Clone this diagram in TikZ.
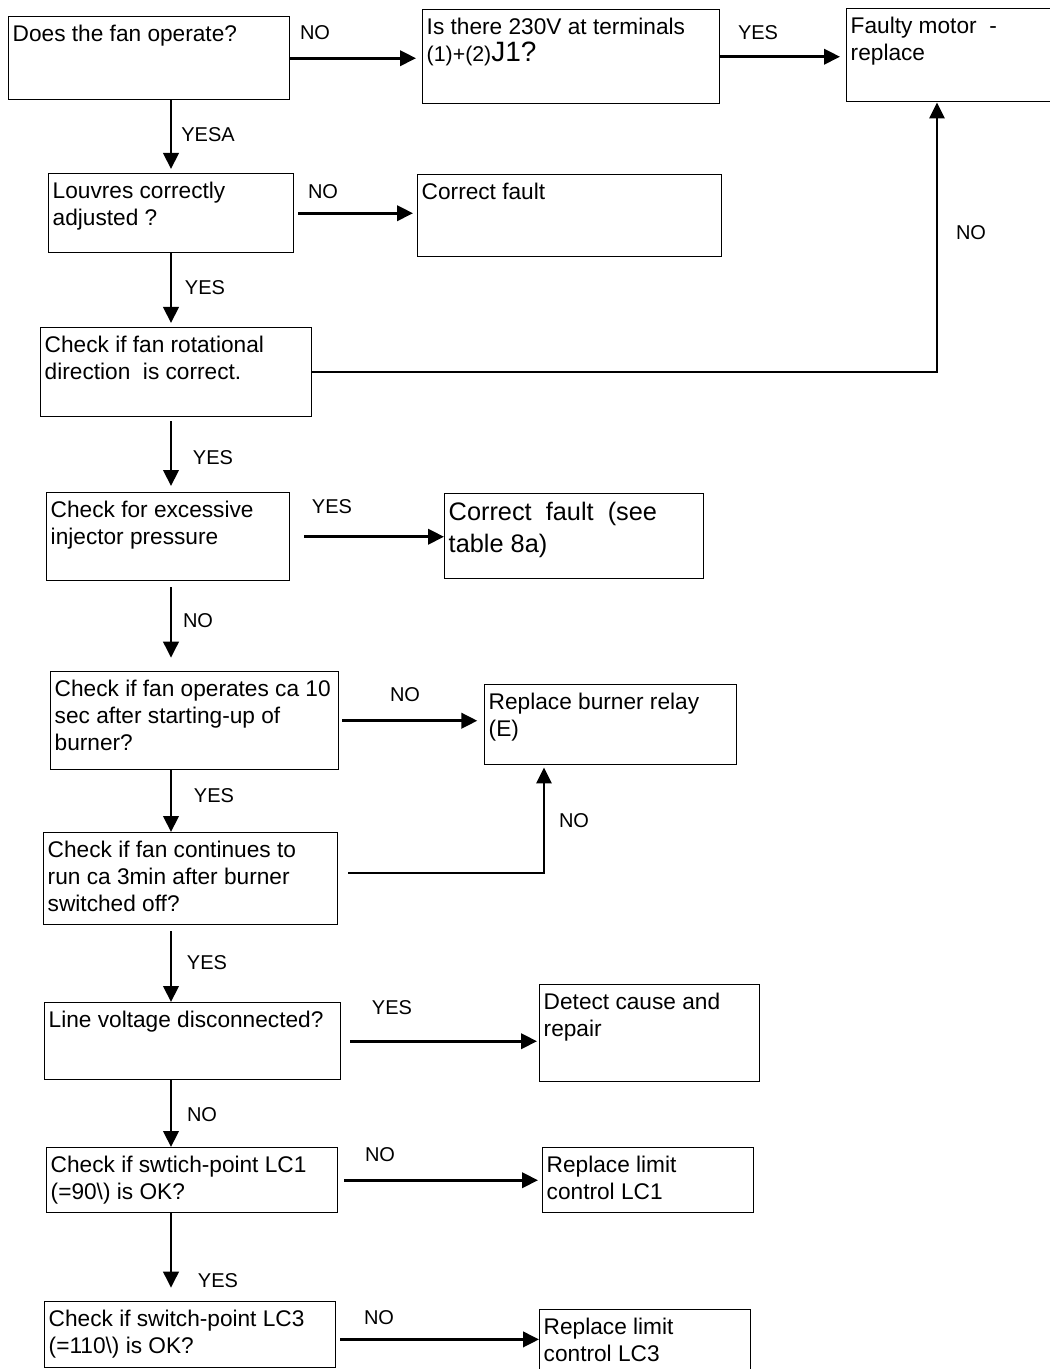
\documentclass[tikz,border=0pt]{standalone}
\usepackage{fontspec}
\setmainfont{Liberation Sans}
\usetikzlibrary{arrows.meta, positioning, calc}
\newdimen\pxu
\pxu=0.75pt
\newcommand{\qtext}[3]{\parbox[c][\dimexpr#2\pxu-16\pxu\relax][t]{\dimexpr#1\pxu-8\pxu\relax}{\raggedright#3}}
\tikzset{
  qbox/.style={
    draw=black,
    line width=1.1pt,
    anchor=north west,
    inner xsep=3pt,
    inner ysep=6pt,
    font=\fontsize{17}{20.25}\selectfont
  },
  lbl/.style={
    font=\fontsize{15}{18}\selectfont,
    inner sep=0pt
  },
  arrowd/.style={
    -{Triangle[length=12pt, width=11.5pt]},
    line width=2.2pt
  },
  arrowr/.style={
    -{Triangle[length=12pt, width=11.5pt]},
    line width=1.5pt
  }
}

\begin{document}
\begin{tikzpicture}[x=0.75pt, y=-0.75pt]

  \path[use as bounding box, fill=white] (0,0) rectangle (1049,1369);
  \coordinate (spine) at (171,0);
  \coordinate (kx1) at (937,0);
  \coordinate (kx2) at (544,0);

  % ==================== QUESTIONS ====================
  \node (q1) [qbox] at (8,16) {\qtext{281}{83}{Does the fan operate?}};

  \node (q2) [qbox] at (422,9) {\qtext{297}{94}{Is there 230V at terminals\\{\fontsize{16}{20.25}\selectfont(1)+(2)}{\fontsize{21}{20.25}\selectfont J1?}}};

  \node (q3) [qbox] at (48,173) {\qtext{245}{79}{Louvres correctly\\adjusted ?}};

  \node (q4) [qbox] at (40,327) {\qtext{271}{89}{Check if fan rotational\\direction~ is correct.}};

  \node (q5) [qbox] at (46,492) {\qtext{243}{88}{Check for excessive\\injector pressure}};

  \node (q6) [qbox] at (50,671) {\qtext{288}{98}{Check if fan operates ca 10\\sec after starting-up of\\burner?}};

  \node (q7) [qbox] at (43,832) {\qtext{294}{92}{Check if fan continues to\\run ca 3min after burner\\switched off?}};

  \node (q8) [qbox] at (44,1002) {\qtext{296}{77}{Line voltage disconnected?}};

  \node (q9) [qbox] at (46,1147) {\qtext{291}{65}{Check if swtich-point LC1\\(=90\textbackslash) is OK?}};

  \node (q10) [qbox] at (44,1301) {\qtext{291}{66}{Check if switch-point LC3\\(=110\textbackslash) is OK?}};

  % ==================== ACTIONS ====================
  \node (r1) [qbox] at (846,8) {\qtext{240}{93}{Faulty motor~ -\\replace}};

  \node (r2) [qbox] at (417,174) {\qtext{304}{82}{Correct fault}};

  \node (r3) [qbox, font=\fontsize{19}{24}\selectfont] at (444,493) {\qtext{259}{85}{Correct~ fault~ (see\\table 8a)}};

  \node (r4) [qbox] at (484,684) {\qtext{252}{80}{Replace burner relay\\(E)}};

  \node (r5) [qbox] at (539,984) {\qtext{220}{97}{Detect cause and\\repair}};

  \node (r6) [qbox] at (542,1147) {\qtext{211}{65}{Replace limit\\control LC1}};

  \node (r7) [qbox] at (539,1309) {\qtext{211}{70}{Replace limit\\control LC3}};

  % Connectors down the spine
  \draw [arrowd, shorten >=3pt] (q1.south -| spine) -- (q3.north -| spine) node[lbl] (n3) at (208,135) {YESA};
  \draw [arrowd, shorten >=3pt] (q3.south -| spine) -- (q4.north -| spine) node[lbl] (n5) at (205,288) {YES};
  \draw [arrowd, shorten <=3pt, shorten >=4.5pt] (q4.south -| spine) -- (q5.north -| spine) node[lbl] (n7) at (213,458) {YES};
  \draw [arrowd, shorten <=4.5pt, shorten >=10pt] (q5.south -| spine) -- (q6.north -| spine) node[lbl] (n9) at (198,621) {NO};
  \draw [arrowd] (q6.south -| spine) -- (q7.north -| spine) node[lbl] (n11) at (214,796) {YES};
  \draw [arrowd, shorten <=4.5pt] (q7.south -| spine) -- (q8.north -| spine) node[lbl] (n13) at (207,963) {YES};
  \draw [arrowd] (q8.south -| spine) -- (q9.north -| spine) node[lbl] (n15) at (202,1115) {NO};
  \draw [arrowd, shorten >=10pt] (q9.south -| spine) -- (q10.north -| spine) node[lbl] (n17) at (218,1281) {YES};

  % Connectors across
  \draw [arrowd, shorten >=4.5pt] (q1.east) -- (q1.east -| q2.west) node[lbl] (n1) at (315,33) {NO};
  \draw [arrowd, shorten >=4.5pt] (q2.east) -- (q2.east -| r1.west) node[lbl] (n2) at (758,33) {YES};
  \draw [arrowd, shorten <=3pt, shorten >=3pt] (q3.east) -- (q3.east -| r2.west) node[lbl] (n4) at (323,192) {NO};
  \draw [arrowd, shorten <=10.5pt] (q5.east) -- (q5.east -| r3.west) node[lbl] (n8) at (332,507) {YES};
  \draw [arrowd, shorten <=2pt, shorten >=5pt] (q6.east) -- (q6.east -| r4.west) node[lbl] (n10) at (405,695) {NO};
  \draw [arrowd, shorten <=6.75pt, shorten >=1.5pt] (q8.east) -- (q8.east -| r5.west) node[lbl] (n14) at (392,1008) {YES};
  \draw [arrowd, shorten <=4.5pt, shorten >=3pt] (q9.east) -- (q9.east -| r6.west) node[lbl] (n16) at (380,1155) {NO};
  \draw [arrowd, shorten <=3pt] ([yshift=-3.5pt]q10.east) -- ([yshift=-3.5pt]q10.east -| r7.west) node[lbl] (n18) at (379,1318) {NO};

  % Return connectors
  \draw [arrowr] (q4.east) -| (r1.south -| kx1) node[lbl] (n6) at (971,233) {NO};
  \draw [arrowr, shorten <=7.5pt, shorten >=1.5pt] ([yshift=4.5pt]q7.east) -| (r4.south -| kx2) node[lbl] (n12) at (574,821) {NO};

\end{tikzpicture}
\end{document}
